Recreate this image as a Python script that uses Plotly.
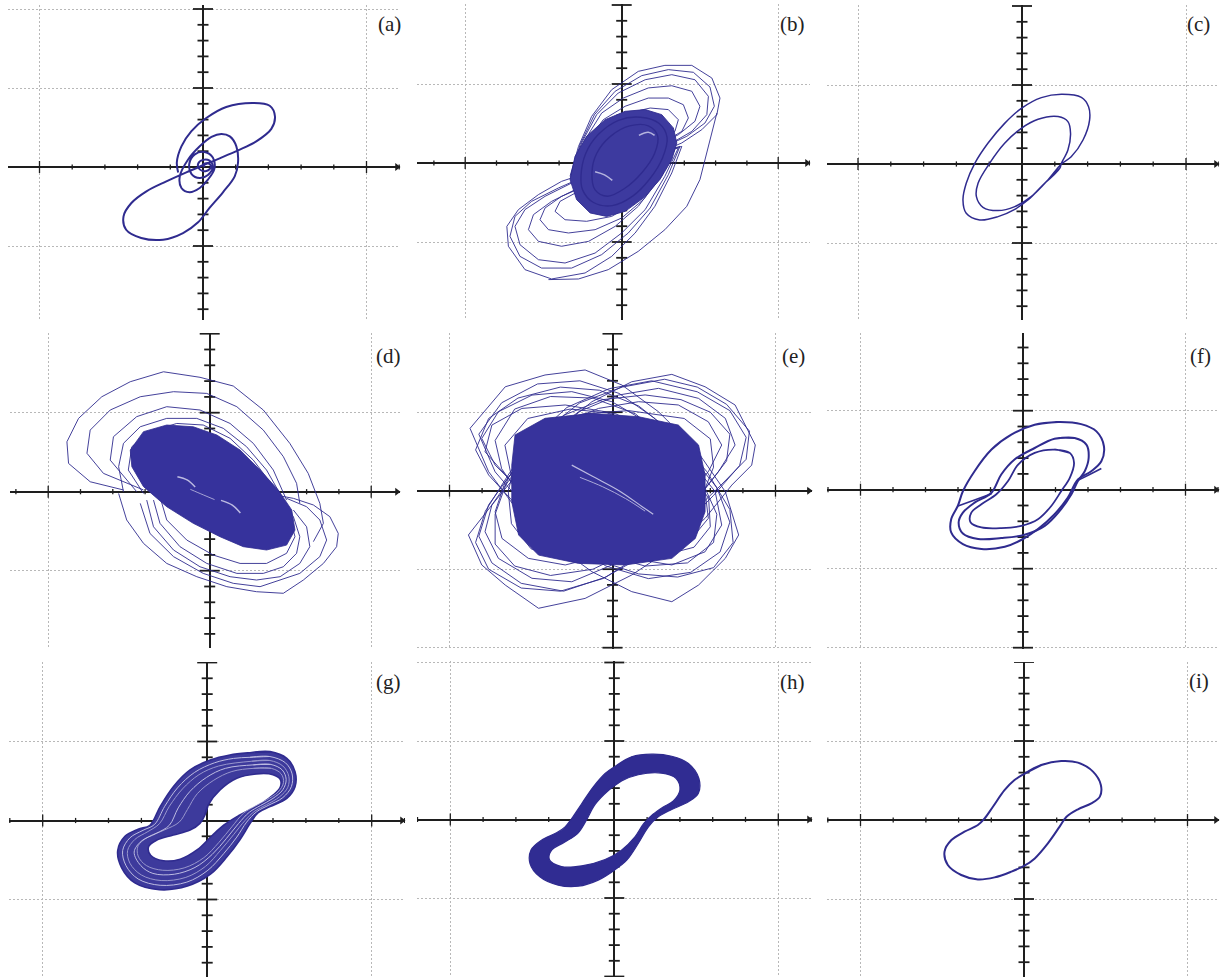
import plotly.graph_objects as go

W, H = 1221, 977
BLUE = "#2f2b8f"
CORE = "#36329c"
GRID = "#b8b8b8"
AXC = "#1e1e1e"
GAP = "#d4d3ee"

# ---------------- data (oscilloscope divisions) ----------------
A_PATH = [(0.05, 0.0), (0.0, 0.15), (0.15, 0.25), (0.25, 0.0), (0.1, -0.25), (-0.1, -0.15),
          (-0.15, 0.2), (0.0, 0.45), (0.2, 0.4), (0.3, 0.0), (0.15, -0.5), (-0.1, -0.7),
          (-0.35, -0.45), (-0.42, 0.2), (-0.25, 0.8), (0.05, 0.95), (0.3, 0.6), (0.35, -0.1),
          (0.15, -0.8), (-0.10, -1.33), (-0.41, -1.60), (-0.66, -1.33), (-0.71, -0.59), (-0.46, 0.46),
          (-0.10, 1.31), (0.26, 1.90), (0.56, 2.09), (0.82, 1.94), (1.02, 1.31), (1.07, 0.25),
          (0.97, -0.59), (0.61, -1.60), (0.20, -2.59), (-0.15, -3.50), (-0.61, -4.18), (-1.22, -4.60),
          (-1.89, -4.49), (-2.35, -3.97), (-2.43, -3.12), (-2.19, -2.28), (-1.73, -1.54), (-1.12, -0.91),
          (-0.51, -0.34), (0.0, 0.11), (0.51, 0.55), (1.07, 1.05), (1.63, 1.62), (2.09, 2.41),
          (2.20, 3.21), (2.04, 3.88), (1.53, 4.05), (0.71, 3.80), (0.10, 3.10), (-0.36, 2.26),
          (-0.66, 1.31), (-0.80, 0.3), (-0.76, -0.35)]

C_PATH = [(1.15, -0.27), (0.69, -1.22), (0.18, -2.28), (-0.22, -2.87), (-0.73, -3.33), (-1.29, -3.54),
          (-1.70, -3.12), (-1.80, -2.28), (-1.70, -1.22), (-1.44, 0.04), (-1.04, 1.31), (-0.53, 2.57),
          (-0.02, 3.52), (0.59, 4.20), (1.20, 4.41), (1.81, 4.22), (2.03, 3.63), (2.06, 2.78),
          (1.86, 1.52), (1.50, 0.46), (1.20, 0.0), (0.79, -1.01), (0.28, -2.07), (-0.22, -2.70),
          (-0.73, -2.95), (-1.19, -2.74), (-1.39, -2.07), (-1.34, -1.22), (-0.99, 0.04), (-0.53, 1.31),
          (-0.02, 2.26), (0.49, 2.83), (1.10, 3.00), (1.40, 2.68), (1.48, 1.94), (1.40, 0.89),
          (1.20, 0.04), (1.15, -0.27), (0.69, -1.22)]

F_OUTER = [(0.36, 4.11), (1.08, 4.28), (1.79, 4.15), (2.26, 3.69), (2.49, 2.75), (2.41, 1.80),
           (2.10, 1.17), (1.69, 0.65), (1.38, -0.50), (0.97, -1.55), (0.46, -2.49), (0.0, -3.12),
           (-0.56, -3.61), (-1.28, -3.75), (-1.85, -3.44), (-2.21, -2.70), (-2.21, -1.87), (-2.0, -1.0),
           (-1.85, -0.1), (-1.49, 1.17), (-0.97, 2.54), (-0.36, 3.48)]
F_MIDDLE = [(0.97, 3.23), (1.59, 3.27), (1.95, 2.85), (2.02, 2.01), (1.90, 1.17), (1.69, 0.55),
            (1.49, -0.29), (1.13, -1.34), (0.67, -2.29), (0.05, -2.85), (-0.67, -3.06), (-1.38, -3.12),
            (-1.85, -2.77), (-1.98, -2.08), (-1.85, -1.45), (-1.49, -0.82), (-0.97, -0.19), (-0.67, 0.96),
            (-0.26, 1.91), (0.36, 2.64)]
F_INNER = [(0.97, 2.54), (1.44, 2.33), (1.57, 1.70), (1.44, 0.75), (1.18, -0.08), (0.87, -1.03),
           (0.46, -1.87), (-0.05, -2.29), (-0.67, -2.43), (-1.28, -2.39), (-1.61, -2.08), (-1.59, -1.45),
           (-1.28, -0.92), (-0.82, -0.29), (-0.46, 0.55), (-0.15, 1.59), (0.36, 2.33)]
F_LINK1 = [(-2.0, -1.03), (-1.49, -0.65), (-0.97, -0.25)]
F_LINK2 = [(2.41, 1.34), (2.05, 0.96), (1.69, 0.59)]

I_LOOP = [(0.0, 2.91), (0.53, 3.48), (1.14, 3.73), (1.65, 3.63), (2.11, 3.06), (2.35, 2.22),
          (2.32, 1.48), (2.06, 1.05), (1.65, 0.68), (1.30, 0.21), (1.09, -0.42), (0.73, -1.48),
          (0.33, -2.43), (0.0, -2.91), (-0.39, -3.27), (-0.90, -3.63), (-1.41, -3.76), (-1.92, -3.48),
          (-2.33, -2.85), (-2.43, -2.00), (-2.22, -1.27), (-1.82, -0.74), (-1.41, -0.32), (-1.20, 0.11),
          (-0.95, 0.84), (-0.59, 1.90), (-0.29, 2.53)]

H_OUTER = [(0.0, 3.35), (0.53, 3.99), (1.14, 4.16), (1.75, 4.03), (2.26, 3.57), (2.58, 2.61),
           (2.56, 1.66), (2.26, 1.13), (1.75, 0.64), (1.34, 0.17), (1.04, -0.47), (0.73, -1.53),
           (0.38, -2.59), (0.0, -3.23), (-0.49, -3.86), (-1.10, -4.25), (-1.71, -4.18), (-2.27, -3.65),
           (-2.57, -2.80), (-2.54, -1.95), (-2.22, -1.32), (-1.76, -0.85), (-1.50, -0.47), (-1.30, 0.06),
           (-0.99, 1.02), (-0.64, 2.08), (-0.28, 2.93)]
H_INNER = [(0.73, 2.85), (1.44, 2.95), (1.88, 2.62), (2.0, 1.87), (1.80, 1.18), (1.48, 0.78),
           (1.18, 0.33), (0.90, -0.25), (0.63, -1.10), (0.22, -1.95), (-0.28, -2.55), (-0.99, -2.95),
           (-1.61, -3.0), (-1.98, -2.55), (-1.91, -1.95), (-1.52, -1.45), (-1.12, -0.90), (-0.86, -0.08),
           (-0.59, 0.95), (-0.18, 1.85), (0.22, 2.45)]

G_OUTER = [(1.30, 4.29), (1.91, 4.36), (2.42, 3.93), (2.67, 3.09), (2.67, 2.14), (2.42, 1.40),
           (1.91, 0.88), (1.55, 0.50), (1.30, -0.2), (1.0, -1.2), (0.6, -2.3), (0.1, -3.4),
           (-0.6, -4.15), (-1.45, -4.38), (-2.2, -3.95), (-2.6, -3.0), (-2.72, -1.9), (-2.5, -1.0),
           (-2.1, -0.55), (-1.74, -0.30), (-1.43, 0.88), (-1.03, 2.14), (-0.52, 3.20), (0.09, 3.83),
           (0.69, 4.15)]
G_INNER = [(0.39, 1.93), (0.90, 2.67), (1.50, 2.95), (2.0, 2.9), (2.22, 2.6), (2.22, 2.1),
           (2.0, 1.6), (1.70, 1.15), (1.35, 0.75), (0.95, 0.3), (0.5, -0.3), (0.15, -0.95),
           (-0.3, -1.85), (-0.82, -2.45), (-1.33, -2.55), (-1.72, -2.2), (-1.78, -1.65), (-1.54, -1.25),
           (-1.03, -0.92), (-0.52, -0.60), (-0.22, -0.18), (-0.07, 0.35), (0.03, 0.98)]
G_MID1 = [(1.35, 3.75), (1.9, 3.8), (2.3, 3.45), (2.48, 2.8), (2.45, 2.1), (2.2, 1.5),
          (1.8, 1.0), (1.45, 0.6), (1.15, 0.0), (0.8, -0.9), (0.4, -1.9), (-0.05, -2.9),
          (-0.65, -3.6), (-1.4, -3.8), (-2.0, -3.45), (-2.35, -2.7), (-2.42, -1.9), (-2.2, -1.2),
          (-1.8, -0.7), (-1.45, -0.2), (-1.15, 0.9), (-0.75, 2.0), (-0.25, 2.9), (0.35, 3.45)]
G_MID2 = [(1.4, 3.3), (1.95, 3.3), (2.25, 2.95), (2.32, 2.4), (2.15, 1.8), (1.8, 1.3),
          (1.45, 0.9), (1.1, 0.45), (0.75, -0.4), (0.35, -1.4), (-0.1, -2.35), (-0.7, -3.0),
          (-1.35, -3.15), (-1.85, -2.85), (-2.1, -2.25), (-2.1, -1.6), (-1.8, -1.05), (-1.3, -0.6),
          (-0.85, -0.1), (-0.6, 0.7), (-0.3, 1.7), (0.2, 2.55), (0.75, 3.1)]
G_GAP1 = [(1.3, 4.0), (1.9, 4.05), (2.38, 3.65), (2.58, 2.95), (2.56, 2.15), (2.3, 1.45),
          (1.85, 0.95), (1.5, 0.55), (1.2, -0.1), (0.9, -1.05), (0.5, -2.1), (0.02, -3.15),
          (-0.62, -3.9), (-1.43, -4.1), (-2.1, -3.7), (-2.47, -2.85), (-2.57, -1.9), (-2.35, -1.1),
          (-1.95, -0.62), (-1.6, -0.25), (-1.29, 0.9), (-0.9, 2.07), (-0.38, 3.05), (0.22, 3.65),
          (0.8, 3.93)]
G_GAP2 = [(1.4, 3.52), (1.93, 3.55), (2.28, 3.2), (2.4, 2.6), (2.3, 1.95), (2.0, 1.4),
          (1.62, 0.95), (1.28, 0.52), (0.95, -0.2), (0.58, -1.15), (0.15, -2.15), (-0.37, -2.97),
          (-1.0, -3.4), (-1.65, -3.35), (-2.02, -2.85), (-2.22, -2.0), (-2.0, -1.3), (-1.55, -0.82),
          (-1.15, -0.3), (-0.88, 0.8), (-0.52, 1.85), (-0.02, 2.73), (0.55, 3.3)]

B_CORE = [(-1.65, -1.05), (-1.49, 0.42), (-1.12, 1.69), (-0.53, 2.74), (0.11, 3.27), (0.75, 3.38),
          (1.28, 3.06), (1.65, 2.22), (1.76, 1.27), (1.60, 0.21), (1.22, -1.05), (0.69, -2.22),
          (0.11, -3.06), (-0.48, -3.38), (-1.01, -3.16), (-1.44, -2.32)]
B_RING1 = [(-1.3, -0.8), (-1.15, 0.6), (-0.75, 1.8), (-0.1, 2.7), (0.6, 2.9), (1.2, 2.5), (1.45, 1.6),
           (1.3, 0.3), (0.9, -1.0), (0.35, -2.1), (-0.3, -2.7), (-0.9, -2.5), (-1.25, -1.7)]
B_RING2 = [(-0.95, -0.6), (-0.8, 0.6), (-0.35, 1.7), (0.25, 2.35), (0.85, 2.35), (1.15, 1.7),
           (1.05, 0.6), (0.65, -0.6), (0.1, -1.6), (-0.45, -2.1), (-0.85, -1.7)]
B_GAP1 = [(-0.85, -0.55), (-0.55, -0.75), (-0.3, -1.1)]
B_GAP2 = [(0.55, 1.75), (0.85, 1.95), (1.05, 1.75)]
B_UR1 = [(-1.65, -0.84), (-1.38, 1.05), (-0.96, 2.95), (-0.32, 4.64), (0.53, 5.80), (1.38, 6.18),
         (2.24, 6.18), (2.88, 5.38), (3.14, 4.11), (3.04, 3.06), (2.56, 2.11), (1.92, 1.27),
         (1.17, 0.63), (0.32, 0.0), (-0.53, -0.42), (-1.17, -0.74)]
B_UR6 = [(-1.62, -0.74), (-1.33, 1.16), (-0.87, 3.06), (-0.21, 4.54), (0.64, 5.53), (1.49, 5.91),
         (2.29, 5.74), (2.82, 4.81), (2.96, 3.59), (2.66, 2.53), (2.08, 1.69), (1.28, 0.95),
         (0.43, 0.32), (-0.43, -0.21), (-1.17, -0.53)]
B_UR2 = [(-1.60, -0.63), (-1.28, 1.27), (-0.80, 3.06), (-0.11, 4.43), (0.75, 5.27), (1.60, 5.59),
         (2.34, 5.27), (2.77, 4.22), (2.72, 3.06), (2.24, 2.0), (1.60, 1.27), (0.75, 0.63),
         (-0.11, 0.11), (-0.96, -0.32)]
B_UR3 = [(-1.54, -0.53), (-1.17, 1.48), (-0.64, 3.16), (0.05, 4.11), (0.85, 4.75), (1.60, 4.89),
         (2.24, 4.54), (2.50, 3.59), (2.34, 2.64), (1.81, 1.79), (1.06, 1.05), (0.21, 0.42),
         (-0.64, -0.11)]
B_UR4 = [(-1.49, -0.42), (-1.12, 1.27), (-0.59, 2.74), (0.11, 3.59), (0.85, 4.11), (1.49, 4.11),
         (1.97, 3.69), (2.13, 2.85), (1.92, 2.0), (1.38, 1.37), (0.64, 0.74), (-0.21, 0.21),
         (-1.06, -0.21)]
B_UR5 = [(-1.44, -0.32), (-1.01, 1.37), (-0.43, 2.53), (0.21, 3.16), (0.91, 3.48), (1.49, 3.38),
         (1.81, 2.74), (1.70, 2.0), (1.22, 1.37), (0.53, 0.84), (-0.32, 0.32), (-1.06, -0.11)]
B_LL1 = [(1.92, 1.05), (1.60, -0.63), (1.06, -2.74), (0.43, -4.43), (-0.32, -5.91), (-1.17, -6.96),
         (-2.24, -7.34), (-3.09, -6.75), (-3.62, -5.27), (-3.67, -4.01), (-3.30, -2.95), (-2.66, -2.0),
         (-1.92, -1.16), (-0.96, -0.53), (0.0, 0.0), (0.96, 0.53)]
B_LL6 = [(1.86, 1.05), (1.49, -0.74), (0.91, -2.85), (0.21, -4.43), (-0.64, -5.80), (-1.60, -6.65),
         (-2.56, -6.65), (-3.25, -5.91), (-3.57, -4.64), (-3.41, -3.38), (-2.88, -2.43), (-2.02, -1.58),
         (-1.06, -0.74), (-0.11, -0.11), (0.96, 0.53)]
B_LL2 = [(1.81, 0.95), (1.38, -0.84), (0.75, -2.95), (0.0, -4.43), (-0.85, -5.70), (-1.81, -6.33),
         (-2.66, -6.12), (-3.25, -5.17), (-3.41, -4.01), (-3.09, -2.95), (-2.45, -2.11), (-1.60, -1.27),
         (-0.64, -0.53), (0.32, 0.11), (1.17, 0.63)]
B_LL3 = [(1.70, 0.84), (1.17, -1.05), (0.53, -2.74), (-0.21, -4.01), (-1.06, -4.96), (-1.92, -5.27),
         (-2.66, -4.96), (-2.98, -4.22), (-2.82, -3.27), (-2.24, -2.43), (-1.38, -1.58), (-0.43, -0.74),
         (0.53, 0.0)]
B_LL4 = [(1.65, 0.74), (1.28, -0.84), (0.69, -2.32), (0.0, -3.48), (-0.85, -4.22), (-1.70, -4.43),
         (-2.34, -4.22), (-2.61, -3.59), (-2.45, -2.85), (-1.92, -2.11), (-1.06, -1.37), (-0.11, -0.53),
         (0.85, 0.21)]
B_LL5 = [(1.60, 0.63), (1.06, -1.16), (0.43, -2.53), (-0.32, -3.38), (-1.12, -3.69), (-1.81, -3.59),
         (-2.13, -3.06), (-1.97, -2.43), (-1.38, -1.79), (-0.53, -1.05), (0.43, -0.21)]
B_OUT = [(3.04, 3.16), (2.77, 1.05), (2.50, -1.05), (2.08, -2.74), (1.38, -4.22), (0.53, -5.59),
         (-0.43, -6.75), (-1.38, -7.34), (-2.34, -7.38)]

D_CORE = [(-2.46, 2.64), (-2.05, 3.80), (-1.33, 4.22), (-0.51, 4.11), (0.22, 3.59), (0.94, 2.64),
          (1.56, 1.37), (2.12, 0.11), (2.54, -1.16), (2.64, -2.43), (2.38, -3.38), (1.76, -3.69),
          (1.04, -3.48), (0.32, -2.85), (-0.51, -2.0), (-1.33, -0.95), (-2.05, 0.32), (-2.41, 1.58)]
D_GAP1 = [(-1.0, 0.95), (-0.7, 0.75), (-0.45, 0.3)]
D_GAP2 = [(0.35, -0.55), (0.7, -0.85), (0.95, -1.35)]
D_GAP3 = [(-0.6, 0.15), (-0.2, -0.2), (0.15, -0.5)]
D_L1 = [(-2.67, 0.11), (-3.70, 0.63), (-4.37, 1.79), (-4.42, 3.16), (-4.06, 4.64), (-3.34, 6.01),
        (-2.46, 6.96), (-1.43, 7.59), (-0.30, 7.24), (0.73, 6.69), (1.66, 5.17), (2.48, 3.06),
        (3.05, 1.16), (3.41, -0.74), (3.52, -2.0), (3.21, -3.16)]
D_L2 = [(-2.82, -0.11), (-2.57, -1.79), (-2.05, -3.27), (-1.33, -4.54), (-0.40, -5.38), (0.53, -6.01),
        (1.45, -6.33), (2.28, -6.43), (2.90, -5.59), (3.52, -4.54), (3.93, -3.48), (3.98, -2.64),
        (3.72, -1.58), (3.21, -0.84), (2.59, -0.42), (1.76, -0.11)]
D_L3 = [(-2.05, 0.11), (-3.29, 1.16), (-3.80, 2.43), (-3.70, 3.90), (-3.08, 5.17), (-2.15, 6.01),
        (-1.12, 6.33), (-0.09, 6.22), (0.84, 5.38), (1.66, 3.90), (2.28, 2.22), (2.69, 0.53),
        (2.79, -0.74)]
D_L4 = [(-2.26, 0.0), (-3.08, 2.0), (-2.98, 3.48), (-2.26, 4.75), (-1.33, 5.38), (-0.30, 5.17),
        (0.63, 4.32), (1.35, 3.06), (1.97, 1.37), (2.38, -0.53)]
D_L5 = [(-1.74, -0.53), (-1.54, -2.0), (-0.92, -3.48), (-0.09, -4.54), (0.84, -5.17), (1.66, -5.17),
        (2.28, -4.75), (2.69, -3.90), (2.79, -2.85), (2.59, -1.58), (2.18, -0.53)]
D_L6 = [(-2.15, -0.74), (-1.85, -2.64), (-1.12, -4.11), (-0.20, -5.17), (0.73, -5.80), (1.56, -6.01),
        (2.79, -5.17), (3.41, -4.11), (3.62, -3.06), (3.41, -1.79), (3.0, -0.95), (2.38, -0.42)]
D_L7 = [(-2.67, 0.0), (-2.82, 1.58), (-2.67, 3.06), (-2.15, 4.11), (-1.33, 4.64), (-0.40, 4.64),
        (0.42, 4.01), (1.14, 2.85), (1.76, 1.37), (2.23, -0.32)]
D_L8 = [(-2.05, -0.11), (-2.52, 1.37), (-2.41, 2.85), (-1.85, 3.80), (-1.02, 4.32), (-0.20, 4.22),
        (0.63, 3.38), (1.35, 2.0), (1.97, 0.32), (2.38, -1.37), (2.48, -2.64)]
D_L9 = [(-1.54, -0.32), (-1.33, -1.79), (-0.71, -3.06), (0.11, -4.01), (0.94, -4.54), (1.76, -4.54),
        (2.38, -3.90), (2.64, -2.85), (2.48, -1.58), (1.97, -0.53)]
D_L10 = [(-1.95, -0.53), (-1.74, -2.22), (-1.12, -3.69), (-0.30, -4.75), (0.63, -5.38), (1.45, -5.59),
         (2.18, -5.38), (2.79, -4.54), (3.10, -3.48), (3.0, -2.22), (2.59, -1.16)]

E_CORE = [(-2.99, 3.55), (-2.07, 4.61), (-0.63, 4.93), (0.80, 4.71), (2.02, 4.18), (2.64, 2.91),
          (2.84, 1.0), (2.84, -1.34), (2.54, -3.04), (1.82, -4.31), (0.39, -4.73), (-1.04, -4.63),
          (-2.27, -4.10), (-2.88, -2.82), (-3.09, -0.70), (-3.09, 1.63)]
E_GAP1 = [(-1.25, 1.63), (-0.6, 0.9), (0.2, 0.0), (0.9, -1.0), (1.25, -1.5)]
E_GAP2 = [(-1.0, 0.85), (-0.3, 0.25), (0.4, -0.5), (1.0, -1.3)]
E_NT1 = [(-4.37, 3.97), (-3.29, 6.62), (-2.07, 7.37), (-0.84, 7.69), (0.29, 6.73), (1.41, 5.03),
         (2.54, 2.70), (3.46, -0.06), (3.87, -2.82), (3.46, -4.31), (2.64, -6.01), (1.82, -7.07),
         (0.59, -6.43), (-0.63, -5.16), (-1.76, -3.46), (-2.88, -1.34), (-3.80, 1.21)]
E_PT1 = [(1.82, 7.41), (0.59, 6.94), (-0.63, 5.67), (-1.76, 3.76), (-2.78, 1.42), (-3.70, -0.91),
         (-4.42, -2.82), (-4.01, -4.73), (-3.29, -6.01), (-2.27, -7.49), (-0.84, -6.86), (0.59, -5.37),
         (1.82, -3.67), (2.84, -1.76), (3.66, 0.36), (4.27, 1.63), (4.38, 2.91), (3.76, 5.46), (2.84, 6.62)]
E_NT2 = [(-4.01, 3.33), (-3.50, 5.03), (-2.47, 6.09), (-1.25, 6.31), (-0.02, 5.67), (1.21, 4.18),
         (2.33, 2.06), (3.15, -0.06), (3.35, -2.19), (2.84, -3.89), (1.82, -4.73), (0.59, -4.31),
         (-0.63, -3.25), (-1.76, -1.76), (-2.78, -0.06), (-3.60, 1.63)]
E_PT2 = [(1.41, 6.52), (0.18, 6.09), (-1.04, 5.03), (-2.07, 3.33), (-2.99, 1.21), (-3.70, -0.91),
         (-3.91, -2.61), (-3.50, -4.31), (-2.47, -5.58), (-1.25, -5.80), (-0.02, -4.73), (1.21, -3.04),
         (2.43, -0.91), (3.25, 1.21), (3.76, 2.91), (3.46, 4.61), (2.64, 5.88)]
E_NT3 = [(-3.91, 2.48), (-3.70, 4.18), (-2.78, 5.24), (-1.45, 5.46), (-0.22, 5.03), (1.00, 3.76),
         (2.13, 1.85), (2.84, -0.06), (2.94, -1.76), (2.43, -3.04), (1.41, -3.46), (0.18, -3.04),
         (-1.04, -2.19), (-2.17, -0.91), (-3.19, 0.79)]
E_PT3 = [(0.80, 5.67), (-0.43, 5.24), (-1.66, 4.18), (-2.58, 2.48), (-3.29, 0.57), (-3.60, -1.34),
         (-3.39, -3.04), (-2.58, -4.31), (-1.45, -4.73), (-0.22, -4.10), (1.00, -2.61), (2.13, -0.70),
         (2.94, 1.21), (3.35, 2.91), (2.94, 4.39), (2.02, 5.46)]
E_NT4 = [(-3.3, 2.9), (-2.6, 4.6), (-1.3, 5.2), (0.1, 4.9), (1.3, 3.6), (2.3, 1.6), (2.95, -0.5),
         (3.0, -2.3), (2.5, -3.6), (1.4, -4.2), (0.0, -3.8), (-1.3, -2.6), (-2.4, -1.0), (-3.1, 0.9)]
E_PT4 = [(0.5, 5.1), (-0.9, 4.9), (-2.1, 3.9), (-2.9, 2.2), (-3.2, 0.0), (-3.1, -2.1), (-2.5, -3.7),
         (-1.2, -4.5), (0.3, -4.0), (1.6, -2.6), (2.7, -0.6), (3.1, 1.5), (3.0, 3.3), (2.2, 4.6)]
E_NT5 = [(-4.2, 2.6), (-3.8, 4.6), (-2.9, 5.9), (-1.6, 6.6), (-0.4, 6.4), (0.8, 5.4), (1.9, 3.6),
         (2.9, 1.2), (3.6, -1.2), (3.7, -3.3), (3.1, -4.9), (2.0, -5.5), (0.8, -5.3), (-0.5, -4.4),
         (-1.8, -2.8), (-3.0, -0.8), (-3.8, 1.0)]
E_PT5 = [(1.2, 7.0), (-0.1, 6.5), (-1.4, 5.3), (-2.4, 3.4), (-3.2, 1.0), (-3.9, -1.3), (-4.2, -3.3),
         (-3.8, -5.0), (-2.8, -6.2), (-1.6, -6.4), (-0.3, -5.6), (0.9, -4.2), (2.1, -2.4), (3.1, -0.3),
         (3.9, 1.6), (4.1, 3.4), (3.6, 5.1), (2.6, 6.3)]
E_NT6 = [(-4.1, 3.6), (-3.4, 5.6), (-2.3, 6.8), (-1.0, 7.0), (0.2, 6.2), (1.3, 4.6), (2.3, 2.5),
         (3.2, 0.2), (3.6, -2.0), (3.3, -3.9), (2.4, -5.2), (1.1, -5.6), (-0.2, -4.8), (-1.5, -3.1),
         (-2.6, -1.2), (-3.6, 1.2)]
E_PT6 = [(1.6, 7.1), (0.3, 6.6), (-1.0, 5.6), (-2.1, 3.8), (-3.0, 1.4), (-3.8, -0.9), (-4.1, -2.9),
         (-3.7, -4.6), (-2.8, -5.9), (-1.5, -6.4), (-0.2, -5.5), (1.0, -3.9), (2.2, -1.9), (3.3, 0.3),
         (4.1, 2.0), (4.2, 3.8), (3.5, 5.5), (2.6, 6.6)]
E_NT7 = [(-3.6, 3.2), (-3.0, 5.2), (-1.9, 6.0), (-0.6, 5.9), (0.7, 4.9), (1.8, 3.0), (2.7, 0.8),
         (3.2, -1.5), (3.1, -3.3), (2.3, -4.6), (1.0, -4.8), (-0.4, -4.0), (-1.6, -2.5), (-2.7, -0.7),
         (-3.4, 1.4)]
E_PT7 = [(1.0, 6.1), (-0.3, 5.8), (-1.5, 4.8), (-2.5, 3.0), (-3.2, 0.8), (-3.6, -1.5), (-3.6, -3.4),
         (-3.0, -4.8), (-1.9, -5.4), (-0.6, -5.0), (0.6, -3.8), (1.8, -2.1), (2.8, 0.0), (3.5, 1.9),
         (3.6, 3.6), (3.0, 5.0), (2.1, 5.8)]

LABELS = ["(a)", "(b)", "(c)", "(d)", "(e)", "(f)", "(g)", "(h)", "(i)"]
LABEL_POS = [(389, 24), (792, 24), (1198, 24), (388, 356), (793, 356), (1200, 356),
             (388, 682), (792, 682), (1199, 681)]

# panel geometry in pixels: left, right, top, bottom, centre x, centre y, px per x-div, px per y-div
PANELS = [
    (8, 400, 5, 320, 203.0, 167.0, 32.7, 15.8),
    (417, 810, 4, 320, 621.7, 163.0, 31.3, 15.8),
    (827, 1219, 5, 320, 1022.0, 164.0, 32.8, 15.8),
    (10, 400, 333, 648, 209.7, 491.7, 32.3, 15.8),
    (417, 812, 333, 649, 612.5, 490.7, 32.6, 15.7),
    (827, 1219, 333, 649, 1023.0, 489.7, 32.5, 15.8),
    (9, 405, 662, 977, 207.2, 820.5, 32.9, 15.8),
    (417, 812, 661, 977, 614.3, 819.5, 32.8, 15.7),
    (827, 1219, 662, 977, 1024.0, 820.0, 32.7, 15.8),
]

fig = go.Figure()
layout = dict(width=W, height=H, margin=dict(l=0, r=0, t=0, b=0),
              paper_bgcolor="white", plot_bgcolor="white", showlegend=False)


def ax_names(k):
    s = "" if k == 1 else str(k)
    return "x" + s, "y" + s, "xaxis" + s, "yaxis" + s


def xy(pts, close=0):
    p = list(pts) + list(pts[:close])
    return [q[0] for q in p], [q[1] for q in p]


def line(k, pts, width=1.0, close=0, shape="linear", color=BLUE, opacity=1.0):
    xa, ya, _, _ = ax_names(k)
    x, y = xy(pts, close)
    fig.add_trace(go.Scatter(x=x, y=y, mode="lines", xaxis=xa, yaxis=ya, hoverinfo="skip",
                             opacity=opacity,
                             line=dict(color=color, width=width, shape=shape, smoothing=1.0)))


def blob(k, pts, color=CORE, width=1.0, shape="linear", lcolor=BLUE):
    xa, ya, _, _ = ax_names(k)
    x, y = xy(pts, 1)
    fig.add_trace(go.Scatter(x=x, y=y, mode="lines", xaxis=xa, yaxis=ya, fill="toself",
                             fillcolor=color, hoverinfo="skip",
                             line=dict(color=lcolor, width=width, shape=shape, smoothing=1.0)))


def band(k, outer, inner, color, width=1.2):
    xa, ya, _, _ = ax_names(k)
    ox, oy = xy(outer, 2)
    ix, iy = xy(list(reversed(inner)), 2)
    fig.add_trace(go.Scatter(x=ox + [None] + ix, y=oy + [None] + iy, mode="lines",
                             xaxis=xa, yaxis=ya, fill="toself", fillcolor=color, hoverinfo="skip",
                             line=dict(color=BLUE, width=width, shape="spline", smoothing=1.0)))


# axes, grid and tick marks
for k, (l, r, t, b, cx, cy, ux, uy) in enumerate(PANELS, start=1):
    xa, ya, xn, yn = ax_names(k)
    xr = [(l - cx) / ux, (r - cx) / ux]
    yr = [(cy - b) / uy, (cy - t) / uy]
    common = dict(showgrid=True, gridcolor=GRID, griddash="2px,2px", gridwidth=1, tick0=0, dtick=5,
                  zeroline=True, zerolinecolor=AXC, zerolinewidth=1.6, showticklabels=False,
                  ticks="", showline=False, fixedrange=True)
    layout[xn] = dict(domain=[l / W, r / W], range=xr, anchor=ya, **common)
    layout[yn] = dict(domain=[1 - b / H, 1 - t / H], range=yr, anchor=xa, **common)

    tx, ty = [], []
    for i in range(int(xr[0]) - 1, int(xr[1]) + 2):
        if i == 0 or i < xr[0] or i > xr[1]:
            continue
        h = (6.0 if i % 5 == 0 else 2.6) / uy
        tx += [i, i, None]
        ty += [-h, h, None]
    fig.add_trace(go.Scatter(x=tx, y=ty, mode="lines", xaxis=xa, yaxis=ya, hoverinfo="skip",
                             line=dict(color=AXC, width=1.3)))
    vx, vy = [], []
    for j in range(int(yr[0]) - 1, int(yr[1]) + 2):
        if j == 0 or j < yr[0] or j > yr[1]:
            continue
        w = (10.0 if j % 5 == 0 else 5.5) / ux
        vx += [-w, w, None]
        vy += [j, j, None]
    fig.add_trace(go.Scatter(x=vx, y=vy, mode="lines", xaxis=xa, yaxis=ya, hoverinfo="skip",
                             line=dict(color=AXC, width=1.8)))
    fig.add_trace(go.Scatter(x=[xr[1] - 3.0 / ux], y=[0], mode="markers", xaxis=xa, yaxis=ya,
                             cliponaxis=False, hoverinfo="skip",
                             marker=dict(symbol="triangle-right", size=7, color=AXC)))

# (a)
line(1, A_PATH, width=2.0, shape="spline")
# (b)
for lp in (B_UR1, B_UR6, B_UR2, B_UR3, B_UR4, B_UR5, B_LL1, B_LL6, B_LL2, B_LL3, B_LL4, B_LL5):
    line(2, lp, width=0.9, close=1)
line(2, B_OUT, width=0.9)
blob(2, B_CORE, color="#3d3a9f", width=0.9)
line(2, B_RING1, width=1.4, close=1, shape="spline")
line(2, B_RING2, width=1.4, close=1, shape="spline")
line(2, B_GAP1, width=1.6, color=GAP, shape="spline", opacity=0.8)
line(2, B_GAP2, width=1.6, color=GAP, shape="spline", opacity=0.8)
# (c)
line(3, C_PATH, width=1.5, shape="spline")
# (d)
for lp in (D_L1, D_L2, D_L3, D_L4, D_L5, D_L6, D_L7, D_L8, D_L9, D_L10):
    line(4, lp, width=0.9)
blob(4, D_CORE, width=0.8)
line(4, D_GAP1, width=1.5, color=GAP, shape="spline", opacity=0.85)
line(4, D_GAP2, width=1.5, color=GAP, shape="spline", opacity=0.85)
line(4, D_GAP3, width=1.0, color=GAP, shape="spline", opacity=0.7)
# (e)
for lp in (E_NT1, E_PT1, E_NT2, E_PT2, E_NT3, E_PT3, E_NT5, E_PT5, E_NT6, E_PT6,
           E_NT7, E_PT7, E_NT4, E_PT4):
    line(5, lp, width=0.9, close=1)
blob(5, E_CORE, color="#37339c", width=0.8)
line(5, E_GAP1, width=1.2, color=GAP, shape="spline", opacity=0.85)
line(5, E_GAP2, width=1.0, color=GAP, shape="spline", opacity=0.75)
# (f)
line(6, F_OUTER, width=2.0, close=2, shape="spline")
line(6, F_MIDDLE, width=2.0, close=2, shape="spline")
line(6, F_INNER, width=1.8, close=2, shape="spline")
line(6, F_LINK1, width=1.6, shape="spline")
line(6, F_LINK2, width=1.6, shape="spline")
# (g)
band(7, G_OUTER, G_INNER, "#3d3a9c", width=1.6)
line(7, G_GAP1, width=1.0, color=GAP, close=2, shape="spline", opacity=0.85)
line(7, G_GAP2, width=1.0, color=GAP, close=2, shape="spline", opacity=0.85)
line(7, G_MID1, width=1.0, color=GAP, close=2, shape="spline", opacity=0.6)
line(7, G_MID2, width=1.0, color=GAP, close=2, shape="spline", opacity=0.6)
# (h)
band(8, H_OUTER, H_INNER, "#302c92", width=1.2)
# (i)
line(9, I_LOOP, width=2.0, close=2, shape="spline")

ann = []
for txt, (px, py) in zip(LABELS, LABEL_POS):
    ann.append(dict(text=txt, x=px / W, y=1 - py / H, xref="paper", yref="paper",
                    showarrow=False, xanchor="center", yanchor="middle",
                    font=dict(family="Liberation Serif, Times New Roman, serif", size=21, color="#222")))
layout["annotations"] = ann
fig.update_layout(**layout)
fig.write_html("out.html")
